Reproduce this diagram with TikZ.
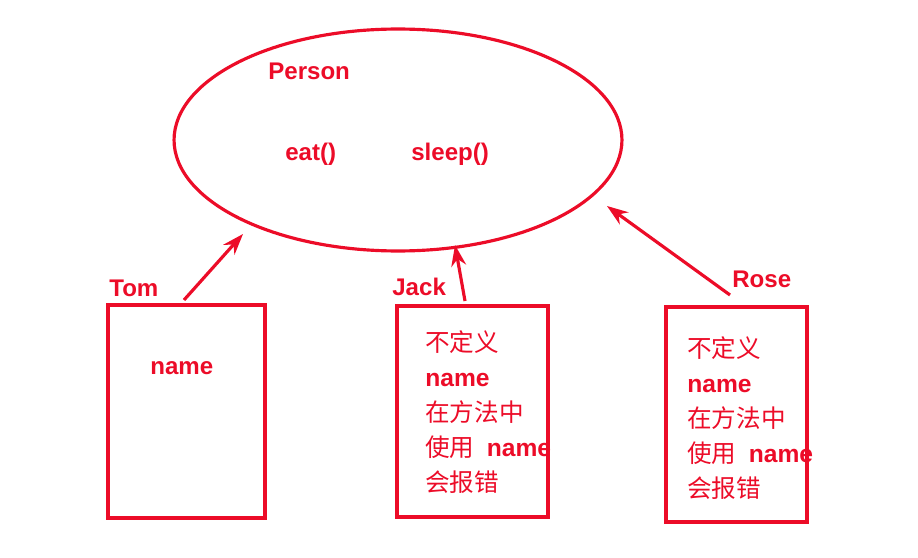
\documentclass[tikz,border=0pt]{standalone}
\usepackage{fontspec}
\setsansfont{Liberation Sans}
\newfontfamily\cjk{Noto Sans CJK SC}
\usetikzlibrary{shapes.geometric,arrows.meta}
\definecolor{notered}{RGB}{236,12,40}
\newcommand{\bname}{{\sffamily\bfseries name}}

\begin{document}
\begin{tikzpicture}[
    x=0.02cm, y=-0.02cm,
    >={Stealth[length=12pt,width=8.5pt]},
    tagtext/.style={notered, font=\sffamily\bfseries\fontsize{13.7}{16}\selectfont, anchor=base west, inner sep=0},
    redline/.style={draw=notered, line width=1.8pt, inner sep=0},
    memo/.style={notered, font=\cjk\fontsize{14}{20}\selectfont, align=left, anchor=north west, inner sep=0},
    pointer/.style={->, notered, line width=1.8pt}
]

    \useasboundingbox (0,0) rectangle (918,557);

    % The class: Person with its two methods
    \node[redline, ellipse, minimum width=8.96cm, minimum height=4.44cm] (person) at (398,140) {};
    \node[tagtext] (pname) at (268,80) {Person};
    \node[tagtext] (eat) at (285,160) {eat()};
    \node[tagtext] (sleep) at (411,160) {sleep()};

    % Objects
    \node[redline, minimum width=3.14cm, minimum height=4.26cm] (tombox) at (186.5,411.5) {};
    \node[redline, minimum width=3.02cm, minimum height=4.22cm] (jackbox) at (472.5,411.5) {};
    \node[redline, minimum width=2.82cm, minimum height=4.30cm] (rosebox) at (736.5,414.5) {};

    \node[tagtext] (tom) at (109,296) {Tom};
    \node[tagtext] (jack) at (392,295) {Jack};
    \node[tagtext] (rose) at (732,287) {Rose};

    % Contents of the boxes
    \node[tagtext] (tomname) at (150,374) {name};
    \node[memo] (jacknote) at (425,330) {不定义\\ \bname\\ 在方法中\\ 使用\hspace{0.5em}\bname\\ 会报错};
    \node[memo] (rosenote) at (687,336) {不定义\\ \bname\\ 在方法中\\ 使用\hspace{0.5em}\bname\\ 会报错};

    % Arrows up to the class
    \coordinate (tomtail) at (184,300);
    \coordinate (tomtip) at (243,234);
    \coordinate (jacktail) at (465,301);
    \coordinate (jacktip) at (455,245);
    \coordinate (rosetail) at (730,295);
    \coordinate (rosetip) at (607,206);

    \draw[pointer] (tomtail) -- (tomtip);
    \draw[pointer] (jacktail) -- (jacktip);
    \draw[pointer] (rosetail) -- (rosetip);

\end{tikzpicture}
\end{document}
